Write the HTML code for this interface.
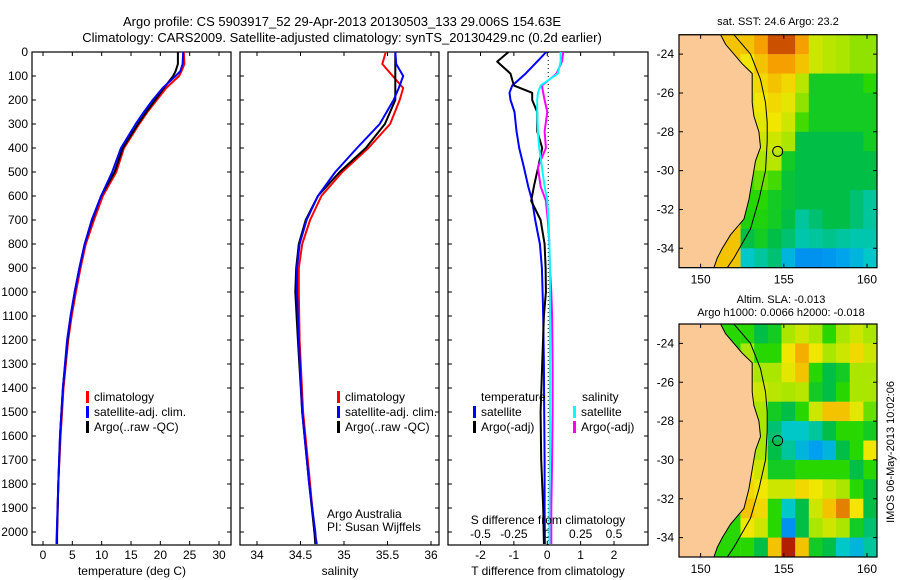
<!DOCTYPE html>
<html><head><meta charset="utf-8"><style>
html,body{margin:0;padding:0;background:#fff;}
svg{display:block;font-family:"Liberation Sans",sans-serif;}
text{font-size:12px;fill:#000;}
</style></head><body>
<svg id="fig" width="900" height="580" viewBox="0 0 900 580" xmlns="http://www.w3.org/2000/svg">
<rect width="900" height="580" fill="#fff"/>
<text x="342" y="26" text-anchor="middle" style="font-size:13px">Argo profile: CS 5903917_52 29-Apr-2013 20130503_133 29.006S 154.63E</text>
<text x="342" y="42" text-anchor="middle" style="font-size:13px">Climatology: CARS2009. Satellite-adjusted climatology: synTS_20130429.nc (0.2d earlier)</text>
<g id="p1"></g>
<g id="p2"></g>
<g id="p3"></g>
<g id="m1"></g>
<g id="m2"></g>
<text x="778" y="25" text-anchor="middle" style="font-size:11px">sat. SST: 24.6 Argo: 23.2</text>
<text x="781" y="303" text-anchor="middle" style="font-size:11px">Altim. SLA: -0.013</text>
<text x="781" y="316" text-anchor="middle" style="font-size:11px">Argo h1000: 0.0066 h2000: -0.018</text>
<text transform="translate(894,452) rotate(-90)" text-anchor="middle" style="font-size:11px">IMOS 06-May-2013 10:02:06</text>
<text x="132" y="575" text-anchor="middle">temperature (deg C)</text>
<text x="340" y="575" text-anchor="middle">salinity</text>
<text x="548" y="575" text-anchor="middle">T difference from climatology</text>
<text x="548" y="524" text-anchor="middle">S difference from climatology</text>
<text x="327" y="518">Argo Australia</text>
<text x="327" y="531">PI: Susan Wijffels</text>
</svg>
<script>
// ---------- data ----------
const depthT = [0,50,80,100,150,200,250,300,400,500,600,700,800,900,1000,1100,1200,1400,1600,1800,2000,2050];
const tempClim = [24.0,24.1,23.6,23.2,21.0,19.4,17.8,16.4,13.8,12.5,10.2,8.7,7.3,6.4,5.6,4.9,4.3,3.5,3.0,2.6,2.4,2.3];
const tempSat  = [23.9,23.8,23.4,22.6,20.4,18.7,17.2,15.8,13.3,11.8,9.9,8.3,7.1,6.2,5.4,4.7,4.1,3.4,2.9,2.6,2.35,2.3];
const tempArgo = [23.0,23.0,22.6,22.2,20.6,19.1,17.6,16.2,13.6,12.2,9.9,8.4,7.1,6.2,5.4,4.7,4.2,3.4,2.9,2.6,2.4,2.4];
const depthS = [0,50,100,150,200,300,400,500,600,700,800,900,1000,1200,1500,1800,2000,2050];
const salClim = [35.48,35.44,35.56,35.68,35.64,35.53,35.28,34.98,34.74,34.61,34.52,34.48,34.48,34.49,34.53,34.61,34.66,34.69];
const salSat  = [35.59,35.60,35.68,35.63,35.57,35.41,35.15,34.90,34.70,34.57,34.49,34.46,34.46,34.48,34.52,34.60,34.67,34.68];
const salArgo = [35.59,35.59,35.59,35.59,35.59,35.47,35.25,34.95,34.70,34.56,34.48,34.45,34.44,34.47,34.52,34.60,34.66,34.67];
const depthD = [0,40,90,140,170,200,250,330,400,480,560,620,700,800,900,1000,1100,1300,1500,1700,1900,2050];
const dTSat  = [-0.03,-0.3,-0.65,-1.05,-1.13,-1.1,-0.98,-0.92,-0.84,-0.7,-0.57,-0.45,-0.36,-0.22,-0.16,-0.14,-0.12,-0.1,-0.09,-0.08,-0.08,-0.07];
const dTArgo = [-1.16,-1.5,-1.1,-1.0,-0.45,-0.45,-0.3,-0.3,-0.15,-0.27,-0.4,-0.48,-0.2,-0.08,-0.05,-0.04,-0.1,-0.15,-0.2,-0.18,-0.12,-0.1];
const dSSat  = [0.1,0.1,0.08,-0.05,-0.07,-0.075,-0.075,-0.07,-0.06,-0.04,-0.02,0.0,0.01,0.016,0.02,0.02,0.02,0.02,0.02,0.02,0.016,0.016];
const dSArgo = [0.12,0.11,0.07,-0.04,-0.03,-0.02,0.0,-0.02,-0.01,-0.07,-0.05,-0.01,0.004,0.016,0.02,0.03,0.036,0.04,0.04,0.036,0.03,0.03];
const depthTicks = [0,100,200,300,400,500,600,700,800,900,1000,1100,1200,1300,1400,1500,1600,1700,1800,1900,2000];
const tempTicks = [0,5,10,15,20,25,30];
const salTicks = [34,34.5,35,35.5,36];
const salTickLabels = ['34','34.5','35','35.5','36'];
const dTTicks = [-2,-1,0,1,2];
const dSTicks = [-0.5,-0.25,0,0.25,0.5];
const dSTickLabels = ['-0.5','-0.25','0','0.25','0.5'];
const lonTicks = [150,155,160];
const latTicks = [-24,-26,-28,-30,-32,-34];
const sstGrid = [
[0.85,0.9,0.95,0.95,0.9,0.75,0.72,0.7,0.68,0.68],
[0.8,0.85,0.9,0.9,0.85,0.75,0.72,0.7,0.68,0.68],
[0.78,0.82,0.85,0.82,0.72,0.55,0.55,0.55,0.55,0.6],
[0.75,0.8,0.82,0.78,0.68,0.55,0.55,0.55,0.55,0.55],
[0.72,0.78,0.8,0.75,0.62,0.55,0.55,0.55,0.55,0.55],
[0.7,0.75,0.75,0.7,0.5,0.5,0.5,0.5,0.5,0.55],
[0.65,0.7,0.72,0.55,0.5,0.5,0.5,0.5,0.5,0.5],
[0.62,0.65,0.62,0.52,0.5,0.5,0.5,0.5,0.5,0.5],
[0.6,0.6,0.55,0.52,0.5,0.5,0.5,0.5,0.45,0.4],
[0.58,0.58,0.55,0.5,0.4,0.45,0.5,0.5,0.45,0.4],
[0.5,0.55,0.5,0.45,0.38,0.4,0.42,0.4,0.38,0.38],
[0.35,0.4,0.45,0.3,0.2,0.2,0.22,0.26,0.3,0.35]];
const slaGrid = [
[0.6,0.5,0.55,0.7,0.75,0.7,0.6,0.7,0.75,0.7],
[0.7,0.6,0.6,0.8,0.88,0.8,0.7,0.75,0.82,0.75],
[0.75,0.7,0.7,0.78,0.85,0.6,0.5,0.55,0.7,0.7],
[0.78,0.75,0.72,0.7,0.72,0.55,0.5,0.6,0.7,0.7],
[0.75,0.7,0.55,0.5,0.6,0.75,0.85,0.85,0.78,0.65],
[0.75,0.7,0.45,0.35,0.35,0.4,0.5,0.6,0.6,0.55],
[0.78,0.7,0.5,0.4,0.3,0.25,0.3,0.5,0.6,0.8],
[0.8,0.75,0.55,0.55,0.6,0.6,0.6,0.6,0.5,0.6],
[0.82,0.8,0.75,0.75,0.82,0.8,0.75,0.7,0.6,0.5],
[0.85,0.82,0.6,0.35,0.5,0.75,0.85,0.92,0.8,0.5],
[0.8,0.75,0.6,0.2,0.5,0.7,0.75,0.7,0.55,0.45],
[0.6,0.5,0.85,0.98,0.85,0.55,0.5,0.35,0.3,0.4]];
const coastLon = [151.2,151.5,152.5,153.1,153.1,153.2,153.5,153.6,153.3,153.1,152.9,152.6,151.8,151.3,151.0,150.8];
const coastLat = [-23,-23.5,-24.5,-25,-26.5,-27.2,-28,-28.8,-29.5,-30.5,-31.5,-32.5,-33.3,-34,-34.5,-35];
const isoLon = [152.0,153.0,153.6,153.9,154.0,154.0,153.9,153.5,153.0,152.0,151.6];
const isoLat = [-23,-24,-25.3,-26.5,-27.5,-28.5,-30,-31.5,-33,-34.5,-35];
const floatLon = 154.63, floatLat = -29.006;

// ---------- helpers ----------
const NS='http://www.w3.org/2000/svg';
function mk(tag, parent, attrs){const e=document.createElementNS(NS,tag);for(const k in attrs)e.setAttribute(k,attrs[k]);parent.appendChild(e);return e;}
const PTOP=52, PBOT=545;
const yD = d => PTOP + d*0.24;
function lin(d0,d1,r0,r1){return v=>r0+(v-d0)*(r1-r0)/(d1-d0);}

function panel(g, x0, x1){
  let e=mk('rect',g,{x:x0,y:PTOP,width:x1-x0,height:PBOT-PTOP,fill:'none',stroke:'#000','stroke-width':1.2});
  
  
  depthTicks.forEach(d=>{
    let t=mk('path',g,{d:`M${x0} ${yD(d)}h4M${x1} ${yD(d)}h-4`,stroke:'#000'});
    
    
  });
}
function xticks(g, ticks, labels, sx, ylab){
  ticks.forEach((v,i)=>{
    const x=sx(v);
    let t=mk('path',g,{d:`M${x} ${PBOT}v-4M${x} ${PTOP}v4`,stroke:'#000'});
    
    
    let l=mk('text',g,{x:x,y:ylab,'text-anchor':'middle'});
    l.textContent=labels[i];
    
    
  });
}
function line(g, xs, ds, sx, color, name){
  const pts=xs.map((v,i)=>sx(v).toFixed(1)+','+yD(ds[i]).toFixed(1)).join(' ');
  let p=mk('polyline',g,{points:pts,fill:'none',stroke:color,'stroke-width':2,'stroke-linejoin':'round'});
  
  
}
function legend(g, x, y, color, label){
  let b=mk('rect',g,{x:x,y:y-6,width:3,height:12,fill:color});
  
  
  let t=mk('text',g,{x:x+8,y:y+4});
  t.textContent=label;
  
  
}

// ---------- panel 1 ----------
const p1=document.getElementById('p1');
const sT=lin(0,30,43,219);
panel(p1,32,231);
depthTicks.forEach(d=>{
  let l=mk('text',p1,{x:28,y:yD(d)+4,'text-anchor':'end'});
  l.textContent=String(d);
  
  
});
xticks(p1,tempTicks,tempTicks.map(String),sT,559);
line(p1,tempClim,depthT,sT,'#f00','temp-climatology-line');
line(p1,tempArgo,depthT,sT,'#000','temp-argo-line');
line(p1,tempSat,depthT,sT,'#00f','temp-satellite-line');
legend(p1,86,397,'#f00','climatology');
legend(p1,86,412,'#00f','satellite-adj. clim.');
legend(p1,86,427,'#000','Argo(..raw -QC)');

// ---------- panel 2 ----------
const p2=document.getElementById('p2');
const sS=lin(34,36,257,431);
panel(p2,240,439);
xticks(p2,salTicks,salTickLabels,sS,559);
line(p2,salClim,depthS,sS,'#f00','sal-climatology-line');
line(p2,salArgo,depthS,sS,'#000','sal-argo-line');
line(p2,salSat,depthS,sS,'#00f','sal-satellite-line');
legend(p2,337,397,'#f00','climatology');
legend(p2,337,412,'#00f','satellite-adj. clim.');
legend(p2,337,427,'#000','Argo(..raw -QC)');

// ---------- panel 3 ----------
const p3=document.getElementById('p3');
const sDT=lin(-2,2,480.5,614);
const sDS=lin(-0.5,0.5,480.5,614);
panel(p3,448,648);
xticks(p3,dTTicks,dTTicks.map(String),sDT,559);
dSTicks.forEach((v,i)=>{
  let l=mk('text',p3,{x:sDS(v),y:538,'text-anchor':'middle'});
  l.textContent=dSTickLabels[i];
  
  
});
let zl=mk('line',p3,{x1:sDT(0)+1,y1:PTOP,x2:sDT(0)+1,y2:PBOT,stroke:'#000','stroke-dasharray':'1,3'});


line(p3,dTSat,depthD,sDT,'#00f','t-diff-satellite-line');
line(p3,dTArgo,depthD,sDT,'#000','t-diff-argo-line');
line(p3,dSArgo,depthD,sDS,'#f0f','s-diff-argo-line');
line(p3,dSSat,depthD,sDS,'#0ff','s-diff-satellite-line');
let th=mk('text',p3,{x:481,y:401});th.textContent='temperature';


let sh=mk('text',p3,{x:582,y:401});sh.textContent='salinity';


legend(p3,473,412,'#00f','satellite');
legend(p3,473,427,'#000','Argo(-adj)');
legend(p3,573,412,'#0ff','satellite');
legend(p3,573,427,'#f0f','Argo(-adj)');

// ---------- maps ----------
const stops=[[0,[0,90,230]],[0.25,[0,160,240]],[0.35,[0,200,200]],[0.5,[0,190,70]],[0.6,[40,215,0]],[0.7,[170,230,0]],[0.8,[240,230,0]],[0.9,[245,160,0]],[1,[160,0,0]]];
function cmap(v){
  for(let i=1;i<stops.length;i++){ if(v<=stops[i][0]){const a=stops[i-1],b=stops[i],t=(v-a[0])/(b[0]-a[0]);
    return 'rgb('+a[1].map((c,k)=>Math.round(c+(b[1][k]-c)*t)).join(',')+')';}}
  return 'rgb(160,0,0)';
}
function drawMap(g, y0, grid, id){
  const x0=679,x1=877,y1=y0+233;
  const sx=lin(148.7,160.6,679,877);
  const sy=lin(-23,-35,y0,y1);
  const cp=mk('clipPath',g,{id:id});
  mk('rect',cp,{x:x0,y:y0,width:x1-x0,height:y1-y0});
  const inner=mk('g',g,{'clip-path':'url(#'+id+')'});
  const rows=grid.length, cols=grid[0].length;
  const gx0=sx(152.4);
  const cw=(x1-gx0)/cols, ch=(y1-y0)/rows;
  let bg=mk('rect',inner,{x:x0,y:y0,width:gx0-x0,height:y1-y0,fill:cmap(grid[0][0])});
  
  
  grid.forEach((row,r)=>row.forEach((v,c)=>{
    let cell=mk('rect',inner,{x:gx0+c*cw,y:y0+r*ch,width:cw+0.5,height:ch+0.5,fill:cmap(v)});
    
    
  }));
  const cpts=coastLon.map((l,i)=>sx(l).toFixed(1)+','+sy(coastLat[i]).toFixed(1));
  let land=mk('polygon',inner,{points:[x0+','+y0].concat(cpts,[x0+','+y1]).join(' '),fill:'#fbc995',stroke:'#000','stroke-width':1});
  
  
  let iso=mk('polyline',inner,{points:isoLon.map((l,i)=>sx(l).toFixed(1)+','+sy(isoLat[i]).toFixed(1)).join(' '),fill:'none',stroke:'#000','stroke-width':1});
  
  
  let fl=mk('circle',g,{cx:sx(floatLon),cy:sy(floatLat),r:5,fill:'none',stroke:'#000','stroke-width':1});
  
  
  let fr=mk('rect',g,{x:x0,y:y0,width:x1-x0,height:y1-y0,fill:'none',stroke:'#000','stroke-width':1.2});
  
  
  lonTicks.forEach(l=>{
    let t=mk('path',g,{d:`M${sx(l)} ${y1}v-4M${sx(l)} ${y0}v4`,stroke:'#000'});
    
    
    let tl=mk('text',g,{x:sx(l),y:y1+16,'text-anchor':'middle'});
    tl.textContent=String(l);
    
    
  });
  latTicks.forEach(l=>{
    let t=mk('path',g,{d:`M${x0} ${sy(l)}h4M${x1} ${sy(l)}h-4`,stroke:'#000'});
    
    
    let tl=mk('text',g,{x:x0-5,y:sy(l)+4,'text-anchor':'end'});
    tl.textContent=String(l);
    
    
  });
}
drawMap(document.getElementById('m1'),34.7,sstGrid,'clip1');
drawMap(document.getElementById('m2'),324,slaGrid,'clip2');
</script>
</body></html>
